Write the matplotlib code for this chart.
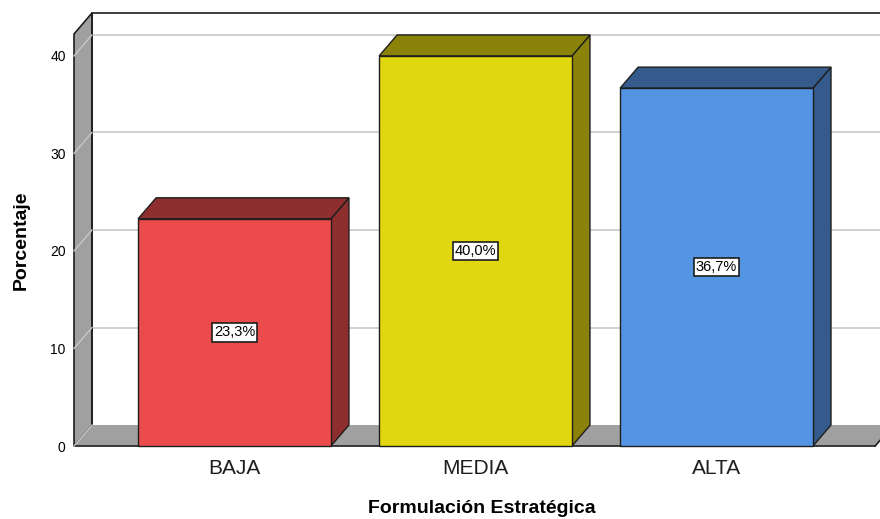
import matplotlib
matplotlib.use('Agg')
import matplotlib.pyplot as plt
from matplotlib.patches import Polygon, Rectangle

plt.rcParams['font.family'] = ['Liberation Sans', 'DejaVu Sans']

# Data
categories = ['BAJA', 'MEDIA', 'ALTA']
percent = [23.3, 40.0, 36.7]
face_colors = ['#EC4B4C', '#E1D70F', '#5495E3']
dark_colors = ['#8E2E2F', '#8B8309', '#345B8B']
yticks = [0, 10, 20, 30, 40]

# 3D box geometry, in data units
xmin, xmax = -0.666, 2.678
floor_right = 2.658
dx, dy = 0.0747, 2.15
wall_top = 42.25
bar_w = 0.8
edge = '#1E1E1E'
wall_gray = '#A0A0A0'

fig = plt.figure(figsize=(8.8, 5.19), dpi=100)
ax = fig.add_axes([74 / 880, 73 / 519, 806 / 880, 433 / 519])
ax.set_xlim(xmin, xmax)
ax.set_ylim(0, wall_top + dy)
for s in ax.spines.values():
    s.set_visible(False)

# back wall with gridlines
ax.add_patch(Rectangle((xmin + dx, dy), xmax - xmin, wall_top, facecolor='white',
                       edgecolor='none', zorder=0))
for v in yticks[1:]:
    ax.plot([xmin + dx, xmax + dx], [v + dy, v + dy], color='#D0D0D0', lw=1.4, zorder=1,
            clip_on=False)
ax.plot([xmin + dx, xmax + dx], [wall_top + dy] * 2, color=edge, lw=1.2, zorder=2,
        clip_on=False)

# left wall
ax.add_patch(Polygon([(xmin, 0), (xmin + dx, dy), (xmin + dx, wall_top + dy), (xmin, wall_top)],
                     facecolor=wall_gray, edgecolor=edge, lw=1.2, zorder=2, clip_on=False))
# floor
ax.add_patch(Polygon([(xmin, 0), (floor_right, 0), (floor_right + dx, dy), (xmin + dx, dy)],
                     facecolor=wall_gray, edgecolor='none', zorder=2, clip_on=False))
ax.plot([xmin, floor_right], [0, 0], color=edge, lw=1.2, zorder=2, clip_on=False)
ax.plot([floor_right, floor_right + dx], [0, dy], color=edge, lw=1.2, zorder=2, clip_on=False)
ax.plot([xmin + dx, xmin + dx], [dy, wall_top + dy], color=edge, lw=1.2, zorder=2)
# gridline continuation across the left wall
for v in yticks:
    ax.plot([xmin, xmin + dx], [v, v + dy], color='#C8C8C8', lw=1.0, zorder=3, clip_on=False)

# bars
for i, (v, fc, dc) in enumerate(zip(percent, face_colors, dark_colors)):
    x0, x1 = i - bar_w / 2, i + bar_w / 2
    ax.add_patch(Polygon([(x1, 0), (x1 + dx, dy), (x1 + dx, v + dy), (x1, v)],
                         facecolor=dc, edgecolor=edge, lw=1.0, zorder=4))
    ax.add_patch(Polygon([(x0, v), (x1, v), (x1 + dx, v + dy), (x0 + dx, v + dy)],
                         facecolor=dc, edgecolor=edge, lw=1.0, zorder=4))
    ax.add_patch(Rectangle((x0, 0), bar_w, v, facecolor=fc, edgecolor=edge, lw=1.0,
                           zorder=5, clip_on=False))
    ax.text(i, v / 2, f'{v:.1f}%'.replace('.', ','), ha='center', va='center', fontsize=10.5,
            zorder=6, bbox=dict(boxstyle='square,pad=0.15', facecolor='white',
                                edgecolor='#1E1E1E', lw=1.2))

ax.set_xticks(range(len(categories)))
ax.set_xticklabels(categories, fontsize=15, color='#1E1E1E')
ax.set_yticks(yticks)
ax.set_yticklabels([str(t) for t in yticks], fontsize=10)
ax.tick_params(axis='x', length=0, pad=9)
ax.tick_params(axis='y', length=0, pad=6)

ax.set_xlabel('Formulación Estratégica', fontsize=14, fontweight='bold')
ax.xaxis.set_label_coords(0.506, -0.125)
ax.set_ylabel('Porcentaje', fontsize=14, fontweight='bold')
ax.yaxis.set_label_coords(-0.055, 0.476)

fig.savefig('out.png', dpi=100)
